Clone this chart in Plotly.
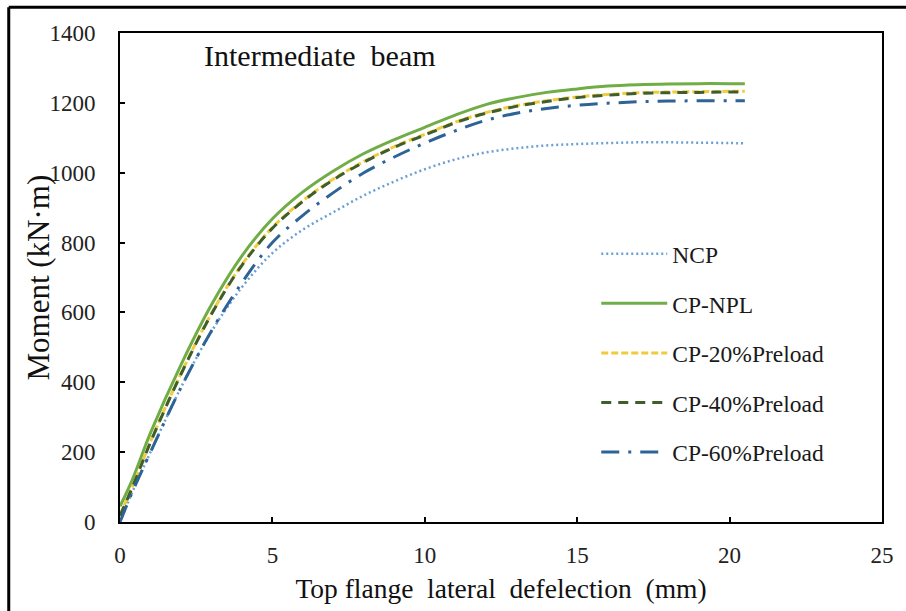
import plotly.graph_objects as go

# Top flange lateral deflection (mm)
deflection = [0, 0.4, 1, 2, 3, 4, 5, 6, 7, 8, 9, 10, 11, 12, 13, 14, 15, 16, 17, 18, 19, 20, 20.5]

# Moment (kN·m) per series
ncp = [0, 85, 200, 385, 545, 672, 770, 837, 887, 935, 975, 1010, 1038, 1058, 1070, 1078, 1082, 1085, 1087, 1087, 1086, 1085, 1084]
cp_npl = [45, 120, 255, 450, 622, 762, 868, 945, 1005, 1055, 1095, 1130, 1165, 1195, 1215, 1230, 1240, 1248, 1252, 1254, 1255, 1255, 1255]
cp_20 = [20, 100, 230, 425, 597, 737, 843, 920, 982, 1032, 1075, 1110, 1145, 1172, 1192, 1206, 1217, 1224, 1229, 1231, 1232, 1233, 1233]
cp_40 = [18, 98, 228, 423, 595, 735, 841, 918, 980, 1030, 1073, 1108, 1143, 1170, 1190, 1204, 1215, 1222, 1227, 1229, 1230, 1231, 1231]
cp_60 = [0, 85, 200, 385, 547, 685, 800, 878, 943, 1000, 1045, 1085, 1120, 1150, 1170, 1184, 1193, 1199, 1203, 1205, 1206, 1206, 1206]

names = ["NCP", "CP-NPL", "CP-20%Preload", "CP-40%Preload", "CP-60%Preload"]
series = [ncp, cp_npl, cp_20, cp_40, cp_60]
colors = ["#6A9FD4", "#70AD47", "#F2CB3A", "#3E5F2C", "#2D6396"]
widths = [2.5, 3, 3, 3, 3]
dashes = ["2px,3px", "solid", "7px,3px", "10px,7px", "18px,9px,3px,9px"]

x_ticks = [0, 5, 10, 15, 20, 25]
y_ticks = [0, 200, 400, 600, 800, 1000, 1200, 1400]

FONT = "Liberation Serif, Times New Roman, serif"

fig = go.Figure()
for i, (n, s) in enumerate(zip(names, series)):
    fig.add_trace(go.Scatter(
        x=deflection, y=s, mode="lines", name=n,
        legendgroup=f"g{i}",
        line=dict(color=colors[i], width=widths[i], dash=dashes[i], shape="spline", smoothing=1.0),
    ))

fig.update_layout(
    width=906, height=611,
    margin=dict(l=120, r=24, t=33, b=86),
    paper_bgcolor="white", plot_bgcolor="white",
    font=dict(family=FONT, color="#1a1a1a", size=22),
    showlegend=True,
    legend=dict(
        x=0.625, y=0.593, xanchor="left", yanchor="top",
        bgcolor="rgba(0,0,0,0)", font=dict(family=FONT, size=23.5, color="#1a1a1a"),
        tracegroupgap=16, itemwidth=66,
    ),
    xaxis=dict(
        range=[0, 25], tickvals=x_ticks, ticks="inside", ticklen=5, tickwidth=1.5,
        tickcolor="black", showgrid=False, zeroline=False, showline=True,
        linecolor="black", linewidth=2, mirror=True,
        tickfont=dict(family=FONT, size=23, color="#222"), ticklabelstandoff=11,
        title=dict(text="Top flange\u00a0 lateral\u00a0 defelection\u00a0 (mm)",
                   font=dict(family=FONT, size=27.5, color="#111"), standoff=12),
    ),
    yaxis=dict(
        range=[0, 1400], tickvals=y_ticks, ticks="inside", ticklen=5, tickwidth=1.5,
        tickcolor="black", showgrid=False, zeroline=False, showline=True,
        linecolor="black", linewidth=2, mirror=True,
        tickfont=dict(family=FONT, size=23, color="#222"), ticklabelstandoff=18,
    ),
    annotations=[
        dict(text="Intermediate\u00a0 beam", xref="paper", yref="paper",
             x=0.108, y=0.955, xanchor="left", yanchor="middle", showarrow=False,
             font=dict(family=FONT, size=30, color="#111")),
        dict(text="Moment (kN·m)", xref="paper", yref="paper", textangle=-90,
             x=-0.1076, y=0.5, xanchor="center", yanchor="middle", showarrow=False,
             font=dict(family=FONT, size=31, color="#111")),
    ],
    shapes=[
        dict(type="line", xref="paper", yref="paper", x0=-0.146, x1=1.1, y0=1.0528, y1=1.0528,
             line=dict(color="black", width=3)),
        dict(type="line", xref="paper", yref="paper", x0=-0.146, x1=-0.146, y0=1.0528, y1=-0.25,
             line=dict(color="black", width=3)),
    ],
)

fig.write_html("out.html")
